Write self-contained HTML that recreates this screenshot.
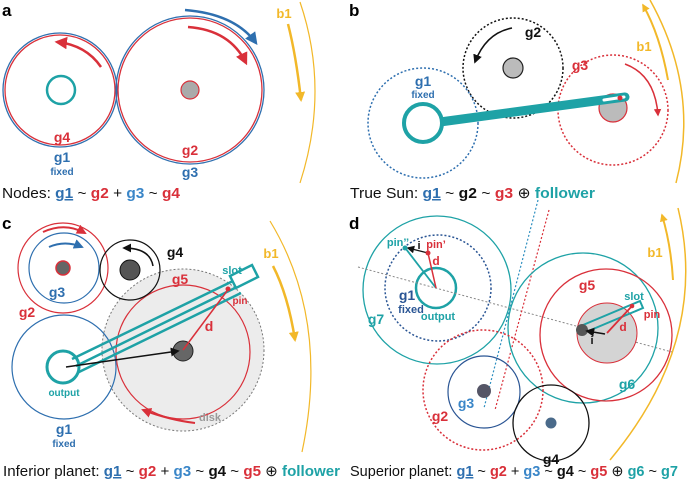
<!DOCTYPE html>
<html><head><meta charset="utf-8"><style>
html,body{margin:0;padding:0;background:#fff;}
svg{display:block;font-family:"Liberation Sans",sans-serif;}
.L{font-weight:bold;text-anchor:middle;}
.cap{font-size:15px;fill:#111;}
</style></head><body>
<svg width="691" height="490" viewBox="0 0 691 490" xmlns="http://www.w3.org/2000/svg">
<defs>
<marker id="ar" viewBox="0 0 10 10" refX="8" refY="5" markerWidth="5" markerHeight="5" orient="auto-start-reverse"><path d="M0,0L10,5L0,10z" fill="#d9303a"/></marker>
<marker id="ab" viewBox="0 0 10 10" refX="8" refY="5" markerWidth="5" markerHeight="5" orient="auto"><path d="M0,0L10,5L0,10z" fill="#2e6faf"/></marker>
<marker id="ay" viewBox="0 0 10 10" refX="8" refY="5" markerWidth="4" markerHeight="4" orient="auto"><path d="M0,0L10,5L0,10z" fill="#f2b829"/></marker>
<marker id="ak" viewBox="0 0 10 10" refX="8" refY="5" markerWidth="6" markerHeight="6" orient="auto"><path d="M0,0L10,5L0,10z" fill="#111"/></marker>
</defs>

<!-- Panel a -->
<text x="2" y="16" font-weight="bold" font-size="17">a</text>
<circle cx="60" cy="90" r="57" fill="none" stroke="#2e6faf" stroke-width="1.3"/>
<circle cx="60" cy="90" r="55" fill="none" stroke="#d9303a" stroke-width="1.3"/>
<circle cx="61" cy="90" r="14" fill="none" stroke="#1ea2a6" stroke-width="2.5"/>
<circle cx="190" cy="90" r="74" fill="none" stroke="#2e6faf" stroke-width="1.3"/>
<circle cx="190" cy="90" r="72" fill="none" stroke="#d9303a" stroke-width="1.3"/>
<circle cx="190" cy="90" r="9" fill="#aaa" stroke="#d9303a" stroke-width="1.2"/>
<path d="M101,67 Q86,45 57,42" fill="none" stroke="#d9303a" stroke-width="2.5" marker-end="url(#ar)"/>
<path d="M185,10 Q235,14 256,43" fill="none" stroke="#2e6faf" stroke-width="2.5" marker-end="url(#ab)"/>
<path d="M188,27 Q230,30 246,63" fill="none" stroke="#d9303a" stroke-width="2.5" marker-end="url(#ar)"/>
<text x="62" y="142" class="L" font-size="14" fill="#d9303a">g4</text>
<text x="62" y="162" class="L" font-size="14" fill="#2e6faf">g1</text>
<text x="62" y="175" class="L" font-size="10" fill="#2e6faf">fixed</text>
<text x="190" y="155" class="L" font-size="14" fill="#d9303a">g2</text>
<text x="190" y="177" class="L" font-size="14" fill="#2e6faf">g3</text>
<text x="284" y="18" class="L" font-size="13" fill="#f2b829">b1</text>
<path d="M288,24 Q296,55 301,100" fill="none" stroke="#f2b829" stroke-width="2.5" marker-end="url(#ay)"/>
<path d="M300,2 Q330,90 300,183" fill="none" stroke="#f2b829" stroke-width="1.2"/>
<text x="2" y="198" class="cap" textLength="178" lengthAdjust="spacingAndGlyphs">Nodes: <tspan font-weight="bold" fill="#2e6faf" text-decoration="underline">g1</tspan> ~ <tspan font-weight="bold" fill="#d9303a">g2</tspan> + <tspan font-weight="bold" fill="#3a86c8">g3</tspan> ~ <tspan font-weight="bold" fill="#d9303a">g4</tspan></text>

<!-- Panel b -->
<text x="349" y="16" font-weight="bold" font-size="17">b</text>
<circle cx="513" cy="68" r="50" fill="none" stroke="#111" stroke-width="1.5" stroke-dasharray="2,2"/>
<circle cx="513" cy="68" r="10" fill="#bbb" stroke="#222" stroke-width="1.2"/>
<circle cx="423" cy="123" r="55" fill="none" stroke="#2e6faf" stroke-width="1.5" stroke-dasharray="2,2"/>
<circle cx="613" cy="110" r="55" fill="none" stroke="#d9303a" stroke-width="1.5" stroke-dasharray="2,2"/>
<circle cx="613" cy="108" r="14" fill="#bbb" stroke="#d9303a" stroke-width="1.2"/>
<line x1="440" y1="122" x2="625" y2="97" stroke="#1ea2a6" stroke-width="9" stroke-linecap="round"/>
<line x1="604" y1="100" x2="624" y2="97" stroke="#fff" stroke-width="3" stroke-linecap="round"/>
<circle cx="620" cy="98" r="2.5" fill="#d9303a"/>
<circle cx="423" cy="123" r="19" fill="#fff" stroke="#1ea2a6" stroke-width="4"/>
<path d="M512,28 Q486,33 475,62" fill="none" stroke="#111" stroke-width="1.5" marker-end="url(#ak)"/>
<text x="533" y="37" class="L" font-size="14" fill="#111">g2</text>
<path d="M625,64 Q655,75 658,115" fill="none" stroke="#d9303a" stroke-width="1.5" marker-end="url(#ar)"/>
<text x="580" y="70" class="L" font-size="14" fill="#d9303a">g3</text>
<text x="423" y="86" class="L" font-size="14" fill="#2e6faf">g1</text>
<text x="423" y="98" class="L" font-size="10" fill="#2e6faf">fixed</text>
<text x="644" y="51" class="L" font-size="13" fill="#f2b829">b1</text>
<path d="M668,80 Q660,35 643,5" fill="none" stroke="#f2b829" stroke-width="2" marker-end="url(#ay)"/>
<path d="M650,0 Q700,90 676,183" fill="none" stroke="#f2b829" stroke-width="1.5"/>
<text x="350" y="198" class="cap" textLength="245" lengthAdjust="spacingAndGlyphs">True Sun: <tspan font-weight="bold" fill="#2e6faf" text-decoration="underline">g1</tspan> ~ <tspan font-weight="bold">g2</tspan> ~ <tspan font-weight="bold" fill="#d9303a">g3</tspan> ⊕ <tspan font-weight="bold" fill="#1ea2a6">follower</tspan></text>

<!-- Panel c -->
<text x="2" y="229" font-weight="bold" font-size="17">c</text>
<circle cx="183" cy="350" r="81" fill="#ececec" stroke="#777" stroke-width="1" stroke-dasharray="2,2"/>
<circle cx="183" cy="352" r="67" fill="none" stroke="#d9303a" stroke-width="1.2"/>
<circle cx="63" cy="268" r="45" fill="none" stroke="#d9303a" stroke-width="1.2"/>
<circle cx="64" cy="268" r="35" fill="none" stroke="#2e6faf" stroke-width="1.2"/>
<circle cx="63" cy="268" r="7" fill="#666" stroke="#d9303a" stroke-width="1.5"/>
<path d="M43,232 Q65,222 85,233" fill="none" stroke="#d9303a" stroke-width="2" marker-end="url(#ar)"/>
<path d="M49,247 Q65,240 82,247" fill="none" stroke="#2e6faf" stroke-width="2" marker-end="url(#ab)"/>
<circle cx="130" cy="270" r="30" fill="none" stroke="#111" stroke-width="1.2"/>
<circle cx="130" cy="270" r="10" fill="#555" stroke="#111" stroke-width="1"/>
<path d="M153,266 Q150,248 124,248" fill="none" stroke="#111" stroke-width="1.5" marker-end="url(#ak)"/>
<text x="175" y="257" class="L" font-size="14" fill="#111">g4</text>
<text x="57" y="297" class="L" font-size="14" fill="#2e6faf">g3</text>
<text x="27" y="317" class="L" font-size="14" fill="#d9303a">g2</text>
<circle cx="64" cy="367" r="52" fill="none" stroke="#2e6faf" stroke-width="1.2"/>
<circle cx="183" cy="351" r="10" fill="#666" stroke="#222" stroke-width="1"/>
<g stroke="#1ea2a6" stroke-width="2.5" fill="none">
<line x1="72" y1="359" x2="233" y2="281"/>
<line x1="76" y1="366" x2="237" y2="287"/>
<line x1="79" y1="372" x2="241" y2="293"/>
<polygon points="230,276 252,265 258,277 236,288"/>
</g>
<circle cx="63" cy="367" r="16" fill="none" stroke="#1ea2a6" stroke-width="3"/>
<line x1="66" y1="367" x2="178" y2="351" stroke="#111" stroke-width="1.5" marker-end="url(#ak)"/>
<line x1="183" y1="350" x2="227" y2="291" stroke="#d9303a" stroke-width="1.5"/>
<circle cx="228" cy="289" r="2.5" fill="#d9303a"/>
<text x="209" y="331" class="L" font-size="14" fill="#d9303a">d</text>
<text x="240" y="304" class="L" font-size="10" fill="#d9303a">pin</text>
<text x="232" y="274" class="L" font-size="11" fill="#1ea2a6">slot</text>
<text x="180" y="284" class="L" font-size="14" fill="#d9303a">g5</text>
<path d="M195,423 Q170,420 143,410" fill="none" stroke="#d9303a" stroke-width="2" marker-end="url(#ar)"/>
<text x="210" y="421" class="L" font-size="11" fill="#999">disk</text>
<text x="64" y="396" class="L" font-size="10" fill="#1ea2a6">output</text>
<text x="64" y="434" class="L" font-size="14" fill="#2e6faf">g1</text>
<text x="64" y="447" class="L" font-size="10" fill="#2e6faf">fixed</text>
<text x="271" y="258" class="L" font-size="13" fill="#f2b829">b1</text>
<path d="M273,266 Q288,295 295,340" fill="none" stroke="#f2b829" stroke-width="2.5" marker-end="url(#ay)"/>
<path d="M270,221 Q330,320 302,452" fill="none" stroke="#f2b829" stroke-width="1.2"/>
<text x="3" y="476" class="cap" textLength="337" lengthAdjust="spacingAndGlyphs">Inferior planet: <tspan font-weight="bold" fill="#2e6faf" text-decoration="underline">g1</tspan> ~ <tspan font-weight="bold" fill="#d9303a">g2</tspan> + <tspan font-weight="bold" fill="#3a86c8">g3</tspan> ~ <tspan font-weight="bold">g4</tspan> ~ <tspan font-weight="bold" fill="#d9303a">g5</tspan> ⊕ <tspan font-weight="bold" fill="#1ea2a6">follower</tspan></text>

<!-- Panel d -->
<text x="349" y="229" font-weight="bold" font-size="17">d</text>
<circle cx="437" cy="290" r="74" fill="none" stroke="#1ea2a6" stroke-width="1.3"/>
<circle cx="438" cy="288" r="53" fill="none" stroke="#2a5594" stroke-width="1.5" stroke-dasharray="2,2"/>
<circle cx="436" cy="288" r="20" fill="none" stroke="#1ea2a6" stroke-width="2.5"/>
<line x1="358" y1="267" x2="672" y2="352" stroke="#888" stroke-width="1" stroke-dasharray="2,2"/>
<line x1="436" y1="288" x2="406" y2="249" stroke="#1ea2a6" stroke-width="1.8"/>
<line x1="436" y1="288" x2="428" y2="253" stroke="#d9303a" stroke-width="1.5"/>
<line x1="428" y1="253" x2="408" y2="248" stroke="#111" stroke-width="1.3" marker-end="url(#ak)"/>
<circle cx="405" cy="248" r="2.5" fill="#1ea2a6"/>
<circle cx="428" cy="253" r="2.5" fill="#d9303a"/>
<text x="398" y="246" class="L" font-size="11" fill="#1ea2a6">pin’’</text>
<text x="436" y="248" class="L" font-size="11" fill="#d9303a">pin’</text>
<text x="419" y="249" class="L" font-size="11" fill="#111">i</text>
<text x="436" y="265" class="L" font-size="12" fill="#d9303a">d</text>
<text x="407" y="300" class="L" font-size="14" fill="#2a5594">g1</text>
<text x="411" y="313" class="L" font-size="11" fill="#2a5594">fixed</text>
<text x="438" y="320" class="L" font-size="11" fill="#1ea2a6">output</text>
<text x="376" y="324" class="L" font-size="14" fill="#1ea2a6">g7</text>
<line x1="538" y1="200" x2="484" y2="408" stroke="#2e8fc0" stroke-width="1.2" stroke-dasharray="2,2"/>
<line x1="549" y1="210" x2="495" y2="410" stroke="#d9303a" stroke-width="1.2" stroke-dasharray="2,2"/>
<circle cx="583" cy="328" r="75" fill="none" stroke="#1ea2a6" stroke-width="1.3"/>
<circle cx="606" cy="335" r="66" fill="none" stroke="#d9303a" stroke-width="1.3"/>
<circle cx="607" cy="333" r="30" fill="#d4d4d4" stroke="#d9303a" stroke-width="1"/>
<polygon points="583,325 640,301 643,308 586,332" fill="none" stroke="#1ea2a6" stroke-width="2"/>
<circle cx="582" cy="330" r="6" fill="#555"/>
<line x1="607" y1="333" x2="632" y2="306" stroke="#d9303a" stroke-width="1.8"/>
<circle cx="632" cy="306" r="2.3" fill="#d9303a"/>
<line x1="605" y1="334" x2="587" y2="331" stroke="#111" stroke-width="1.5" marker-end="url(#ak)"/>
<text x="634" y="300" class="L" font-size="11" fill="#1ea2a6">slot</text>
<text x="652" y="318" class="L" font-size="11" fill="#d9303a">pin</text>
<text x="623" y="331" class="L" font-size="12" fill="#d9303a">d</text>
<text x="592" y="344" class="L" font-size="11" fill="#111">i</text>
<text x="587" y="290" class="L" font-size="14" fill="#d9303a">g5</text>
<text x="627" y="389" class="L" font-size="14" fill="#1ea2a6">g6</text>
<circle cx="483" cy="390" r="60" fill="none" stroke="#d9303a" stroke-width="1.5" stroke-dasharray="2,2"/>
<circle cx="484" cy="392" r="36" fill="none" stroke="#2a5594" stroke-width="1.2"/>
<circle cx="484" cy="391" r="7" fill="#556"/>
<circle cx="551" cy="423" r="38" fill="none" stroke="#111" stroke-width="1.3"/>
<circle cx="551" cy="423" r="5.5" fill="#4a6a8a"/>
<text x="466" y="408" class="L" font-size="14" fill="#3a86c8">g3</text>
<text x="440" y="421" class="L" font-size="14" fill="#d9303a">g2</text>
<text x="551" y="464" class="L" font-size="14" fill="#111">g4</text>
<text x="655" y="257" class="L" font-size="13" fill="#f2b829">b1</text>
<path d="M673,280 Q671,245 662,215" fill="none" stroke="#f2b829" stroke-width="2" marker-end="url(#ay)"/>
<path d="M678,208 Q710,340 610,460" fill="none" stroke="#f2b829" stroke-width="1.5"/>
<text x="350" y="476" class="cap" textLength="328" lengthAdjust="spacingAndGlyphs">Superior planet: <tspan font-weight="bold" fill="#2e6faf" text-decoration="underline">g1</tspan> ~ <tspan font-weight="bold" fill="#d9303a">g2</tspan> + <tspan font-weight="bold" fill="#3a86c8">g3</tspan> ~ <tspan font-weight="bold">g4</tspan> ~ <tspan font-weight="bold" fill="#d9303a">g5</tspan> ⊕ <tspan font-weight="bold" fill="#1ea2a6">g6</tspan> ~ <tspan font-weight="bold" fill="#1ea2a6">g7</tspan></text>
</svg>
</body></html>
